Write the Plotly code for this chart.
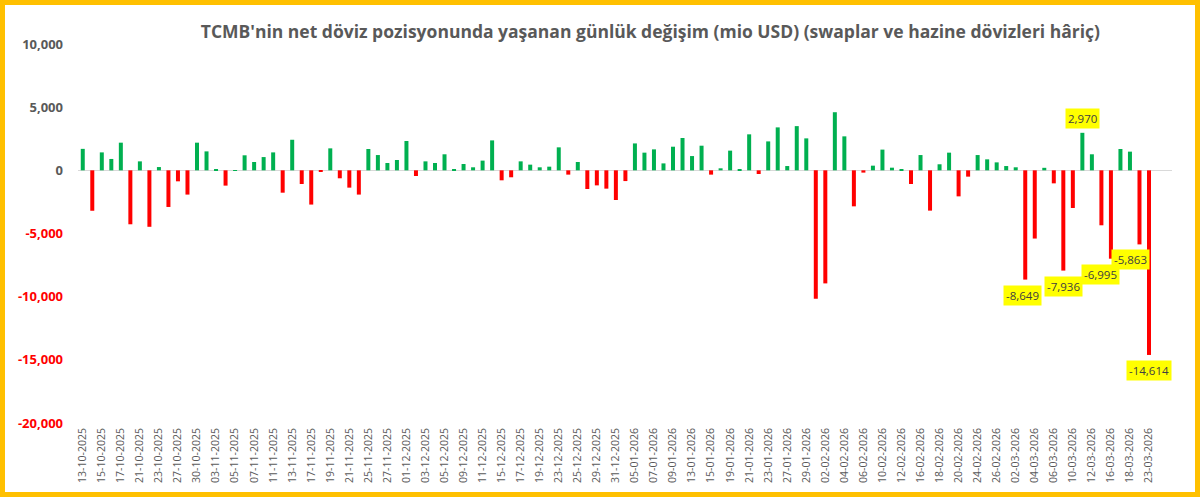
import plotly.graph_objects as go
import pandas as pd

# Business days (Turkey), holidays removed
holidays = ["2025-10-29", "2026-01-01", "2026-03-20"]
days = pd.bdate_range("2025-10-13", "2026-03-23")
days = [d for d in days if d.strftime("%Y-%m-%d") not in holidays]
dates = [d.strftime("%d-%m-%Y") for d in days]

values = [
    1700, -3200, 1420, 900, 2190, -4270, 710, -4470, 260, -2900,
    -870, -1920, 2190, 1500, 100, -1210, 20, 1190, 660, 1050,
    1420, -1770, 2420, -1080, -2710, -60, 1740, -630, -1370, -1920,
    1690, 1210, 580, 820, 2320, -450, 710, 580, 1270, 50,
    500, 240, 770, 2370, -790, -550, 710, 450, 240, 290,
    1820, -340, 660, -1480, -1190, -1450, -2350, -850, 2130, 1400,
    1660, 550, 1870, 2560, 1130, 1950, -340, 160, 1560, 100,
    2850, -290, 2290, 3400, 340, 3500, 2530, -10170, -8950, 4600,
    2690, -2850, -180, 370, 1640, 210, 30, -1080, 1210, -3190,
    480, 1400, -2060, -500, 1210, 870, 630, 340, 240, -8649,
    -5400, 200, -1030, -7936, -2980, 2970, 1270, -4350, -6995, 1690,
    1480, -5863, -14614,
]

label_dates = ["03-03-2026", "09-03-2026", "11-03-2026", "16-03-2026", "19-03-2026", "23-03-2026"]

title = "TCMB'nin net döviz pozisyonunda yaşanan günlük değişim (mio USD) (swaplar ve hazine dövizleri hâriç)"
ytick_vals = [10000, 5000, 0, -5000, -10000, -15000, -20000]

GREEN = "#00B050"
RED = "#FF0000"
colors = [GREEN if v >= 0 else RED for v in values]

fig = go.Figure()
fig.add_trace(go.Bar(x=dates, y=values, marker=dict(color=colors, line=dict(width=0)),
                     hoverinfo="x+y"))

def fmt(v):
    s = f"{abs(v):,}"
    return ("-" + s) if v < 0 else s

ytick_text = []
for v in ytick_vals:
    if v < 0:
        ytick_text.append(f"<span style='color:{RED}'>{fmt(v)}</span>")
    else:
        ytick_text.append(fmt(v))

# data labels
val_by_date = dict(zip(dates, values))
for d in label_dates:
    v = val_by_date[d]
    xs = {"03-03-2026": -3, "16-03-2026": -10, "19-03-2026": -9}.get(d, 0)
    fig.add_annotation(
        x=d, y=v, text=fmt(v), showarrow=False,
        yanchor="bottom" if v > 0 else "top",
        yshift=4 if v > 0 else -5, xshift=xs,
        bgcolor="#FFFF00", borderpad=2,
        font=dict(family="Open Sans", size=11.5, color="#404040"),
    )

fig.update_layout(
    width=1200, height=497,
    margin=dict(l=78, r=28, t=44, b=74),
    paper_bgcolor="white", plot_bgcolor="white",
    bargap=0.58,
    showlegend=False,
    title=dict(text=f"<b>{title}</b>", x=0.542, xanchor="center", y=0.935, yanchor="middle",
               font=dict(family="Open Sans", size=17.5, color="#595959")),
    xaxis=dict(type="category", tickmode="array", tickvals=dates[::2], ticktext=dates[::2],
               tickangle=-90, tickfont=dict(family="Open Sans", size=10.5, color="#595959"),
               showgrid=False, showline=False, ticks="", ticklabelstandoff=2),
    yaxis=dict(range=[-20000, 10000], tickmode="array", tickvals=ytick_vals, ticktext=ytick_text,
               tickfont=dict(family="Open Sans", size=13, color="#595959", weight="bold"),
               showgrid=False, zeroline=True, zerolinecolor="#D9D9D9", zerolinewidth=1,
               showline=False, ticks="", ticklabelstandoff=14),
)

# gold frame around the whole figure
pw = 1200 - 78 - 28
ph = 497 - 44 - 74
fig.add_shape(type="rect", xref="paper", yref="paper", layer="above",
              x0=(-78 + 2.5) / pw, x1=(pw + 28 - 2.5) / pw,
              y0=(-74 + 2.5) / ph, y1=(ph + 44 - 2.5) / ph,
              line=dict(color="#FFC000", width=5), fillcolor="rgba(0,0,0,0)")

fig.write_html("out.html")
